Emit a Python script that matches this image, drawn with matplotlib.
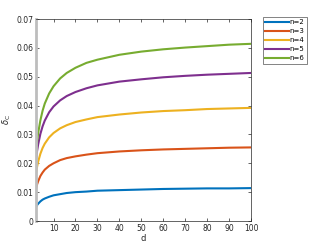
import matplotlib
matplotlib.use("Agg")
import matplotlib.pyplot as plt

d = [2, 2.5, 3, 4, 5, 6, 8, 10, 13, 16, 20, 25, 30, 40, 50, 60, 70, 80, 90, 100]
n2 = [.0048, .0055, .0060, .0068, .0074, .0078, .0084, .0089, .0093, .0097,
      .0100, .0102, .0105, .0107, .0109, .0111, .0112, .0113, .0113, .0114]
n3 = [.0112, .0127, .0138, .0156, .0168, .0178, .0191, .0200, .0211, .0218,
      .0224, .0230, .0235, .0241, .0245, .0248, .0250, .0252, .0254, .0255]
n4 = [.0165, .0188, .0206, .0233, .0253, .0268, .0290, .0305, .0321, .0332,
      .0343, .0352, .0360, .0369, .0376, .0381, .0384, .0388, .0390, .0392]
n5 = [.0212, .0243, .0266, .0302, .0328, .0348, .0377, .0397, .0418, .0433,
      .0447, .0460, .0470, .0483, .0491, .0498, .0503, .0507, .0510, .0513]
n6 = [.0240, .0276, .0305, .0349, .0382, .0407, .0442, .0467, .0494, .0513,
      .0531, .0548, .0559, .0576, .0587, .0595, .0601, .0606, .0611, .0614]
labels = ["n=2", "n=3", "n=4", "n=5", "n=6"]
colors = ["#0072bd", "#d95319", "#edb120", "#7e2f8e", "#77ac30"]
xticks = [10, 20, 30, 40, 50, 60, 70, 80, 90, 100]
yticks = [0, 0.01, 0.02, 0.03, 0.04, 0.05, 0.06, 0.07]
ytick_labels = ["0", "0.01", "0.02", "0.03", "0.04", "0.05", "0.06", "0.07"]

fig = plt.figure(figsize=(3.32, 2.49), dpi=100)
ax = fig.add_axes([36/332, 1-221/249, 215/332, 202/249])
for y, lab, c in zip([n2, n3, n4, n5, n6], labels, colors):
    ax.plot(d, y, color=c, lw=1.5, label=lab, solid_joinstyle="round")

ax.set_xlim(2, 100)
ax.set_ylim(0, 0.07)
ax.set_xticks(xticks)
ax.set_yticks(yticks)
ax.set_yticklabels(ytick_labels)
ax.tick_params(direction="in", length=2.5, width=0.5, labelsize=5.5, colors="#262626",
               top=True, right=True, pad=2)
for s in ["top", "right", "bottom"]:
    ax.spines[s].set_color("#262626")
    ax.spines[s].set_linewidth(0.5)
ax.spines["left"].set_color("#bdbdbd")
ax.spines["left"].set_linewidth(2.0)
ax.set_xlabel("d", fontsize=6, color="#262626", labelpad=1)
ax.set_ylabel(r"$\delta_\mathrm{C}$", fontsize=6, color="#262626", labelpad=2)

leg = ax.legend(loc="upper left", bbox_to_anchor=(263/332, 1-17/249),
                bbox_transform=fig.transFigure, fontsize=5, frameon=True,
                fancybox=False, edgecolor="#262626", handlelength=3.4,
                handletextpad=0.1, borderpad=0.35, labelspacing=0.42,
                borderaxespad=0)
leg.get_frame().set_linewidth(0.5)

fig.savefig("out.png", dpi=100)
